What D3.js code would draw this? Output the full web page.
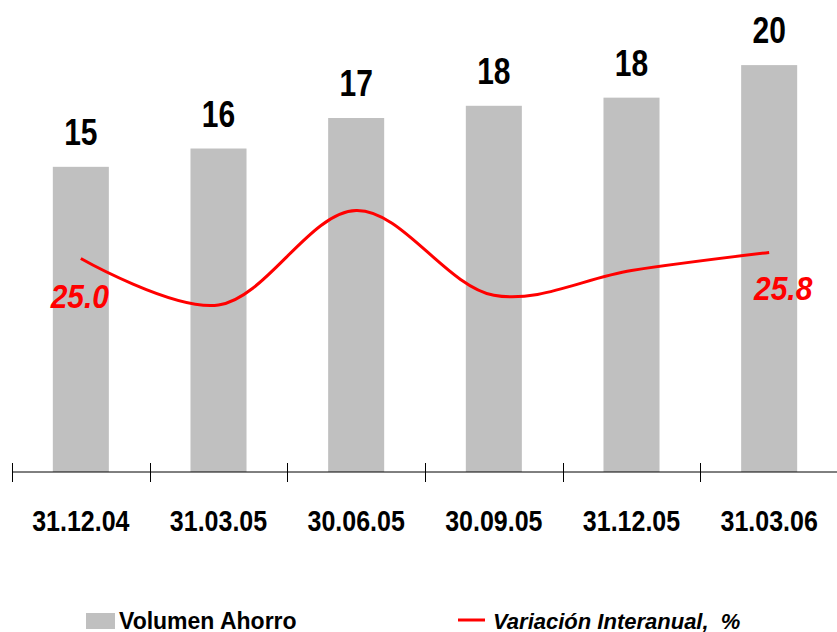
<!DOCTYPE html>
<html>
<head>
<meta charset="utf-8">
<script src="https://cdn.jsdelivr.net/npm/d3@7"></script>
<style>
  body { margin: 0; background: #fff; }
  svg { display: block; font-family: "Liberation Sans", Arial, sans-serif; }
</style>
</head>
<body>
<svg width="837" height="632"></svg>
<script>
var categories = ["31.12.04", "31.03.05", "30.06.05", "30.09.05", "31.12.05", "31.03.06"];
var volumen = [15.0, 15.9, 17.4, 18.0, 18.4, 20.0];
var variacion = [25.0, 18.8, 31.4, 20.1, 23.4, 25.8];
var variacionLabels = [0, 5]; // which points get a red label

var svg = d3.select("svg"),
    width = +svg.attr("width"),
    height = +svg.attr("height"),
    axisY = 472;

var x = d3.scaleBand()
    .domain(categories)
    .range([12, 838])
    .paddingInner(0.593)
    .paddingOuter(0.2965);

var yBar = d3.scaleLinear()
    .domain([0, 23.2])
    .range([axisY, 0]);

var yLine = d3.scaleLinear()
    .domain([0, 60])
    .range([446, -4]);

var fmtBar = d3.format(".0f"),
    fmtLine = d3.format(".1f");

function cx(i) { return x(categories[i]) + x.bandwidth() / 2; }

// bars
svg.append("g")
  .selectAll("rect")
  .data(volumen)
  .enter().append("rect")
    .attr("x", function(d, i) { return x(categories[i]); })
    .attr("y", function(d) { return yBar(d); })
    .attr("width", x.bandwidth())
    .attr("height", function(d) { return axisY - yBar(d); })
    .attr("fill", "#c0c0c0");

// bar values (the original font is drawn a bit stretched vertically)
svg.append("g")
  .selectAll("text")
  .data(volumen)
  .enter().append("text")
    .attr("transform", function(d, i) {
      return "translate(" + cx(i) + "," + (yBar(d) - 22) + ") scale(1,1.22)";
    })
    .attr("text-anchor", "middle")
    .style("font-size", "30px")
    .style("font-weight", "bold")
    .text(function(d) { return fmtBar(d); });

// axis line + ticks
var axis = svg.append("g");
axis.append("line")
    .attr("x1", 12).attr("x2", width)
    .attr("y1", axisY).attr("y2", axisY)
    .attr("stroke", "#000").attr("stroke-width", 1);

axis.selectAll(".tick")
  .data(categories)
  .enter().append("line")
    .attr("class", "tick")
    .attr("x1", function(d) { return Math.round(x(d) - x.step() * x.paddingOuter()) + 0.5; })
    .attr("x2", function(d) { return Math.round(x(d) - x.step() * x.paddingOuter()) + 0.5; })
    .attr("y1", axisY - 9).attr("y2", axisY + 10)
    .attr("stroke", "#000");

axis.selectAll(".cat")
  .data(categories)
  .enter().append("text")
    .attr("class", "cat")
    .attr("transform", function(d, i) { return "translate(" + cx(i) + ",531) scale(1,1.17)"; })
    .attr("text-anchor", "middle")
    .style("font-size", "25px")
    .style("font-weight", "bold")
    .text(function(d) { return d; });

// variation line
var line = d3.line()
    .x(function(d, i) { return cx(i); })
    .y(function(d) { return yLine(d); })
    .curve(d3.curveCatmullRom.alpha(0.5));

svg.append("path")
    .datum(variacion)
    .attr("d", line)
    .attr("fill", "none")
    .attr("stroke", "#ff0000")
    .attr("stroke-width", 3);

svg.append("g")
  .selectAll("text")
  .data(variacionLabels)
  .enter().append("text")
    .attr("transform", function(i) {
      var dx = i === 5 ? 14 : -1, dy = i === 5 ? 47 : 49;
      return "translate(" + (cx(i) + dx) + "," + (yLine(variacion[i]) + dy) + ") scale(1,1.08)";
    })
    .attr("text-anchor", "middle")
    .attr("fill", "#ff0000")
    .style("font-size", "30px")
    .style("font-weight", "bold")
    .style("font-style", "italic")
    .text(function(i) { return fmtLine(variacion[i]); });

// legend
var legend = svg.append("g");
legend.append("rect")
    .attr("x", 86).attr("y", 613)
    .attr("width", 29).attr("height", 16)
    .attr("fill", "#c0c0c0");
legend.append("text")
    .attr("x", 119).attr("y", 629)
    .style("font-size", "23px")
    .style("font-weight", "bold")
    .text("Volumen Ahorro");
legend.append("line")
    .attr("x1", 458).attr("x2", 485)
    .attr("y1", 620).attr("y2", 620)
    .attr("stroke", "#ff0000").attr("stroke-width", 3);
legend.append("text")
    .attr("x", 493).attr("y", 629)
    .style("font-size", "22px")
    .style("font-weight", "bold")
    .style("font-style", "italic")
    .style("white-space", "pre")
    .text("Variación Interanual,  %");
</script>
</body>
</html>
